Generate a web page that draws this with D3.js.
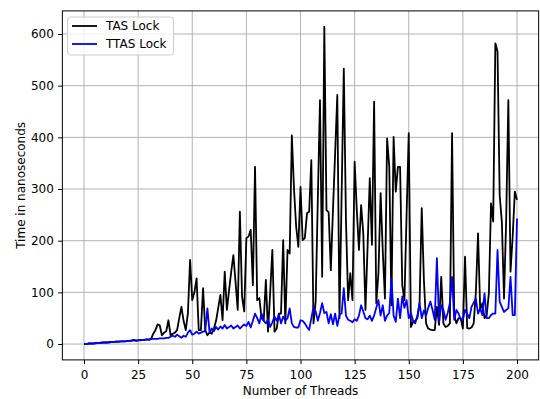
<!DOCTYPE html>
<html>
<head>
<meta charset="utf-8">
<script src="https://cdn.jsdelivr.net/npm/d3@7"></script>
<style>
  body { margin: 0; background: #fff; }
  svg { display: block; font-family: "DejaVu Sans", sans-serif; }
</style>
</head>
<body>
<div id="chart"></div>
<script>
// time per thread count (threads 0..200)
const tasLock = [
  0, 0, 1, 1, 1, 2, 2, 2, 3, 3,
  3, 3, 4, 4, 4, 5, 4, 5, 5, 5,
  6, 6, 7, 8, 6, 7, 7, 8, 8, 9,
  8, 10, 20, 27, 38, 36, 17, 22, 25, 46,
  17, 20, 22, 27, 50, 72, 45, 27, 60, 163,
  85, 100, 127, 27, 27, 108, 27, 17, 22, 20,
  30, 45, 70, 95, 46, 140, 66, 104, 140, 172,
  120, 66, 256, 92, 63, 205, 208, 221, 114, 343,
  85, 89, 50, 45, 124, 24, 100, 182, 24, 30,
  59, 59, 201, 40, 182, 175, 404, 300, 227, 188,
  304, 201, 205, 253, 256, 356, 40, 82, 280, 472,
  130, 614, 259, 255, 143, 260, 370, 482, 50, 290,
  533, 240, 85, 137, 85, 353, 260, 182, 269, 214,
  66, 190, 321, 192, 469, 79, 137, 292, 180, 88,
  398, 343, 75, 401, 295, 343, 343, 114, 85, 250,
  408, 33, 43, 45, 50, 80, 263, 124, 40, 30,
  28, 27, 27, 72, 37, 130, 40, 33, 35, 40,
  408, 56, 40, 50, 50, 30, 169, 31, 30, 32,
  40, 100, 214, 66, 79, 50, 56, 98, 272, 237,
  582, 566, 288, 237, 88, 240, 472, 140, 208, 295,
  279
];
const ttasLock = [
  0, 0, 1, 1, 1, 1, 2, 2, 2, 3,
  3, 3, 3, 4, 4, 4, 5, 5, 5, 5,
  6, 6, 6, 7, 7, 7, 8, 8, 8, 9,
  9, 10, 10, 10, 10, 11, 11, 11, 12, 12,
  14, 16, 14, 18, 15, 12, 16, 14, 22, 27,
  18, 20, 24, 20, 22, 24, 25, 69, 22, 30,
  25, 33, 28, 34, 30, 37, 30, 33, 36, 30,
  33, 36, 30, 34, 38, 35, 43, 32, 45, 59,
  50, 40, 59, 45, 40, 48, 33, 42, 53, 45,
  57, 40, 53, 45, 50, 69, 40, 33, 32, 32,
  46, 45, 40, 33, 27, 50, 72, 63, 45, 60,
  79, 60, 62, 40, 58, 38, 59, 35, 56, 60,
  108, 55, 47, 45, 42, 48, 45, 55, 75, 63,
  50, 48, 55, 45, 55, 70, 85, 55, 75, 45,
  55, 60, 127, 55, 43, 88, 50, 92, 70, 85,
  50, 60, 45, 40, 55, 79, 50, 65, 55, 70,
  82, 66, 47, 166, 43, 75, 66, 47, 60, 79,
  130, 47, 66, 59, 47, 47, 66, 59, 50, 72,
  80, 88, 59, 69, 56, 98, 50, 50, 56, 59,
  59, 182, 82, 72, 62, 66, 69, 130, 56, 56,
  243
];
const seriesNames = ["TAS Lock", "TTAS Lock"];
const seriesColors = ["#000000", "#0000ff"];
const xTicks = [0, 25, 50, 75, 100, 125, 150, 175, 200];
const yTicks = [0, 100, 200, 300, 400, 500, 600];

const width = 540, height = 399;
const plotLeft = 62.35, plotRight = 538.65, plotTop = 10.9, plotBottom = 359.9;

const threads = d3.range(tasLock.length);
const series = [tasLock, ttasLock];

// matplotlib-style 5% margins
const xMax = d3.max(threads);
const allVals = tasLock.concat(ttasLock);
const yMin = d3.min(allVals), yMax = d3.max(allVals);
const yPad = (yMax - yMin) * 0.05;

const x = d3.scaleLinear().domain([-xMax * 0.05, xMax * 1.05]).range([plotLeft, plotRight]);
const y = d3.scaleLinear().domain([yMin - yPad, yMax + yPad]).range([plotBottom, plotTop]);

const svg = d3.select("#chart").append("svg")
  .attr("width", width).attr("height", height);

svg.append("rect").attr("width", width).attr("height", height).attr("fill", "#fff");

// grid
const grid = svg.append("g");
grid.selectAll("line.gx").data(xTicks).join("line")
  .attr("x1", d => x(d)).attr("x2", d => x(d))
  .attr("y1", plotTop).attr("y2", plotBottom)
  .attr("stroke", "#b0b0b0").attr("stroke-width", 0.96);
grid.selectAll("line.gy").data(yTicks).join("line")
  .attr("x1", plotLeft).attr("x2", plotRight)
  .attr("y1", d => y(d)).attr("y2", d => y(d))
  .attr("stroke", "#b0b0b0").attr("stroke-width", 0.96);

// lines
const line = d3.line().x((d, i) => x(threads[i])).y(d => y(d));
svg.append("g").selectAll("path").data(series).join("path")
  .attr("d", d => line(d))
  .attr("fill", "none")
  .attr("stroke", (d, i) => seriesColors[i])
  .attr("stroke-width", 1.8)
  .attr("stroke-linejoin", "round");

// axes
const xAxis = svg.append("g").attr("transform", `translate(0,${plotBottom})`)
  .call(d3.axisBottom(x).tickValues(xTicks).tickSize(4.2).tickPadding(6.3));
const yAxis = svg.append("g").attr("transform", `translate(${plotLeft},0)`)
  .call(d3.axisLeft(y).tickValues(yTicks).tickSize(4.2).tickPadding(4.3));
[xAxis, yAxis].forEach(a => {
  a.select(".domain").remove();
  a.attr("font-family", "DejaVu Sans").attr("font-size", 12);
  a.selectAll(".tick line").attr("stroke", "#000").attr("stroke-width", 1);
  a.selectAll(".tick text").attr("fill", "#000");
});

// frame
svg.append("rect")
  .attr("x", plotLeft).attr("y", plotTop)
  .attr("width", plotRight - plotLeft).attr("height", plotBottom - plotTop)
  .attr("fill", "none").attr("stroke", "#000").attr("stroke-width", 1);

// axis labels
svg.append("text")
  .attr("x", (plotLeft + plotRight) / 2).attr("y", 395)
  .attr("text-anchor", "middle").attr("font-size", 12)
  .text("Number of Threads");
svg.append("text")
  .attr("transform", `translate(25,${(plotTop + plotBottom) / 2}) rotate(-90)`)
  .attr("text-anchor", "middle").attr("font-size", 12)
  .text("Time in nanoseconds");

// legend
const lg = svg.append("g");
lg.append("rect")
  .attr("x", 67.5).attr("y", 17).attr("width", 106).attr("height", 38)
  .attr("rx", 3).attr("fill", "#fff").attr("fill-opacity", 0.8)
  .attr("stroke", "#cccccc").attr("stroke-width", 1);
seriesNames.forEach((name, i) => {
  const ly = 26 + i * 18;
  lg.append("line").attr("x1", 72).attr("x2", 97).attr("y1", ly).attr("y2", ly)
    .attr("stroke", seriesColors[i]).attr("stroke-width", 1.8);
  lg.append("text").attr("x", 106).attr("y", ly + 4.4)
    .attr("font-size", 12).text(name);
});
</script>
</body>
</html>
